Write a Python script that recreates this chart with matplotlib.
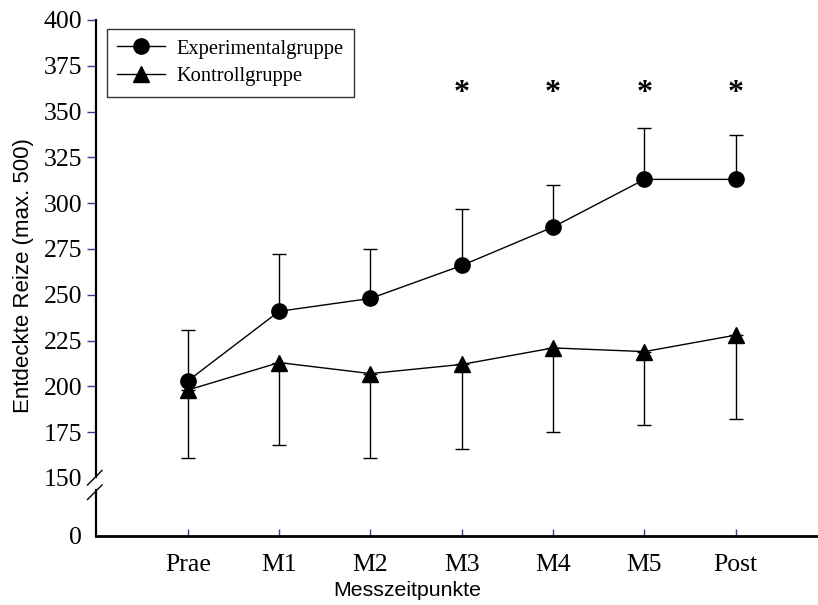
import numpy as np
import matplotlib
matplotlib.use("Agg")
import matplotlib.pyplot as plt
from matplotlib.lines import Line2D

categories = ["Prae", "M1", "M2", "M3", "M4", "M5", "Post"]
exp_mean = [203, 241, 248, 266, 287, 313, 313]
exp_upper = [231, 272, 275, 297, 310, 341, 337]
ctl_mean = [198, 213, 207, 212, 221, 219, 228]
ctl_lower = [161, 168, 161, 166, 175, 179, 182]
significant = ["M3", "M4", "M5", "Post"]
star_level = 360
yticks = [0, 150, 175, 200, 225, 250, 275, 300, 325, 350, 375, 400]

BREAK_LO = 118.34
K = (150 - BREAK_LO) / 150.0

def fwd(v):
    v = np.asarray(v, dtype=float)
    return np.where(v >= 150, v, BREAK_LO + v * K)

def inv(u):
    u = np.asarray(u, dtype=float)
    return np.where(u >= 150, u, (u - BREAK_LO) / K)

serif = "Liberation Serif"
sans = "Liberation Sans"
tickblue = "#3a3a9a"

fig = plt.figure(figsize=(8.18, 6.05), dpi=100)
W, H = 818, 605
ax = fig.add_axes([96 / W, 1 - 536 / H, (818 - 96) / W, (536 - 20) / H])
ax.set_yscale("function", functions=(fwd, inv))

x = np.arange(len(categories))
exp_err = np.array(exp_upper) - np.array(exp_mean)
ctl_err = np.array(ctl_mean) - np.array(ctl_lower)

ax.errorbar(x, exp_mean, yerr=[np.zeros_like(exp_err), exp_err], fmt="none",
            ecolor="black", elinewidth=1.0, capsize=5, capthick=1.0, zorder=2)
ax.errorbar(x, ctl_mean, yerr=[ctl_err, np.zeros_like(ctl_err)], fmt="none",
            ecolor="black", elinewidth=1.0, capsize=5, capthick=1.0, zorder=2)
ax.plot(x, exp_mean, color="black", lw=1.0, marker="o", ms=11, zorder=3)
ax.plot(x, ctl_mean, color="black", lw=1.0, marker="^", ms=11, zorder=3)

for c in significant:
    ax.text(categories.index(c), star_level, "*", ha="center", va="center",
            fontsize=23, family=serif, fontweight="bold")

ax.set_xlim(-1.005, 6.9)
ax.set_ylim(0, 400)
ax.set_xticks(x)
ax.set_xticklabels(categories, family=serif, fontsize=18.5)
ax.set_yticks(yticks)
ax.set_yticklabels([str(t) for t in yticks], family=serif, fontsize=18.5)

ax.tick_params(axis="y", direction="out", length=6.5, width=1.0, color=tickblue, pad=3.5)
ax.tick_params(axis="x", direction="in", length=5, width=1.0, color=tickblue, pad=13)
ax.yaxis.get_major_ticks()[1].tick1line.set_visible(False)
ax.yaxis.get_major_ticks()[0].tick1line.set_visible(False)

for s in ["top", "right", "left"]:
    ax.spines[s].set_visible(False)
ax.spines["bottom"].set_linewidth(2.0)

# broken left axis drawn in figure pixels
def fy(py):
    return 1 - py / H
def fx(px):
    return px / W
fig.add_artist(Line2D([fx(96), fx(96)], [fy(20), fy(477)], color="black", lw=1.6))
fig.add_artist(Line2D([fx(96), fx(96)], [fy(490), fy(536)], color="black", lw=1.6))
fig.add_artist(Line2D([fx(87.5), fx(102)], [fy(485), fy(470.5)], color="black", lw=1.0))
fig.add_artist(Line2D([fx(87.5), fx(102)], [fy(499.5), fy(485)], color="black", lw=1.0))

handles = [Line2D([], [], color="black", lw=1.0, marker="o", ms=11),
           Line2D([], [], color="black", lw=1.0, marker="^", ms=11)]
leg = ax.legend(handles, ["Experimentalgruppe", "Kontrollgruppe"],
                loc="upper left", bbox_to_anchor=((107 - 96) / 722, (536 - 29) / 516),
                borderaxespad=0, frameon=True, fancybox=False, handlelength=2.3,
                prop={"family": serif, "size": 14.8}, labelspacing=0.4,
                borderpad=0.5, handletextpad=0.6)
leg.get_frame().set_edgecolor("black")
leg.get_frame().set_linewidth(1.0)

fig.text(fx(407), fy(590), "Messzeitpunkte", family=sans, fontsize=15.3,
         ha="center", va="center")
fig.text(fx(24), fy(276), "Entdeckte Reize (max. 500)", family=sans, fontsize=16,
         ha="center", va="center", rotation=90)

fig.savefig("out.png", dpi=100)
